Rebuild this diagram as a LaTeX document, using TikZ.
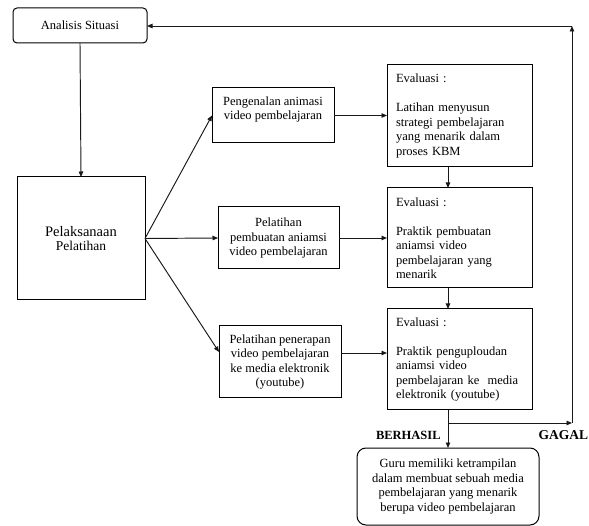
\documentclass[tikz,border=0pt]{standalone}
\usepackage{fontspec}
\setmainfont{Liberation Serif}
\usetikzlibrary{arrows.meta,calc}
\begin{document}
\begin{tikzpicture}[x=1pt,y=-1pt,
  every node/.style={inner sep=0pt,outer sep=0pt},
  txt/.style={font=\rmfamily\fontsize{12.5pt}{14.5pt}\selectfont},
  boxn/.style={draw=black,line width=1pt,txt,align=center},
  evalbox/.style={draw=black,line width=1pt,txt,align=left,text width=127pt,inner xsep=9pt,minimum width=145pt},
  conn/.style={draw=black!90,line width=0.95pt},
  arr/.style={conn,-{Triangle[length=5.5pt,width=4.5pt]}},
  lbl/.style={font=\rmfamily\bfseries\fontsize{12.5pt}{14pt}\selectfont}
]
\useasboundingbox (0,0) rectangle (589,526);

\node[boxn,rounded corners=4pt,minimum width=134pt,minimum height=35pt] (ana) at (80,25.5) {Analisis Situasi};
\node[boxn,minimum width=128pt,minimum height=123pt] (pel) at (81,238.5)
  {{\fontsize{14.5pt}{17pt}\selectfont Pelaksanaan}\\{\fontsize{13.5pt}{16pt}\selectfont Pelatihan}};

\node[boxn,minimum width=122pt,minimum height=55pt] (p1) at (273,115.5)
  {Pengenalan animasi\\video pembelajaran\\\mbox{}};
\node[boxn,minimum width=121pt,minimum height=62pt] (p2) at (278.5,238)
  {Pelatihan\\pembuatan aniamsi\\video pembelajaran};
\node[boxn,minimum width=122pt,minimum height=72pt] (p3) at (280,362)
  {Pelatihan penerapan\\video pembelajaran\\ke media elektronik\\(youtube)};

\node[evalbox,minimum height=102pt] (e1) at (459.5,116)
  {Evaluasi :\\[14.5pt]Latihan menyusun\\strategi pembelajaran\\yang menarik dalam\\proses KBM};
\node[evalbox,minimum height=100pt] (e2) at (459.5,238)
  {Evaluasi :\\[14.5pt]Praktik pembuatan\\aniamsi video\\pembelajaran yang\\menarik};
\node[evalbox,minimum height=101pt] (e3) at (459.5,359.5)
  {Evaluasi :\\[14.5pt]Praktik penguploudan\\aniamsi video\\pembelajaran ke~ media\\elektronik (youtube)};

\node[boxn,rounded corners=9pt,minimum width=182pt,minimum height=77pt] (fin) at (448,486.5)
  {Guru memiliki ketrampilan\\dalam membuat sebuah media\\pembelajaran yang menarik\\berupa video pembelajaran};

\coordinate (xc) at (448,0);
\coordinate (sp) at (448,423);
\coordinate (g) at (572,423);
\coordinate (gt) at (572,26);

\node[lbl,anchor=base west] (ber) at (376,439.5) {BERHASIL};
\node[lbl,anchor=base east,font=\rmfamily\bfseries\fontsize{13.5pt}{15pt}\selectfont] (gag) at (588,439.5) {GAGAL};

% connectors
\draw[arr] (ana.south) -- (pel.north);
\draw[arr] (pel.east) -- (p1.west);
\draw[arr] (pel.east) -- (p2.west);
\draw[arr] (pel.east) -- ([yshift=10pt]p3.west);
\draw[arr] (p1.east) -- (p1.east -| e1.west);
\draw[arr] (p2.east) -- (p2.east -| e2.west);
\draw[arr] ([yshift=9pt]p3.east) -- ([yshift=9pt]p3.east -| e3.west);
\draw[arr] (e1.south -| xc) -- (e2.north -| xc);
\draw[arr] (e2.south -| xc) -- (e3.north -| xc);
\draw[arr] (e3.south -| xc) -- (fin.north);
\draw[arr] (sp) -- (g);
\draw[arr] (g) -- (gt);
\draw[arr] (gt) -- (gt -| ana.east);
\end{tikzpicture}
\end{document}
